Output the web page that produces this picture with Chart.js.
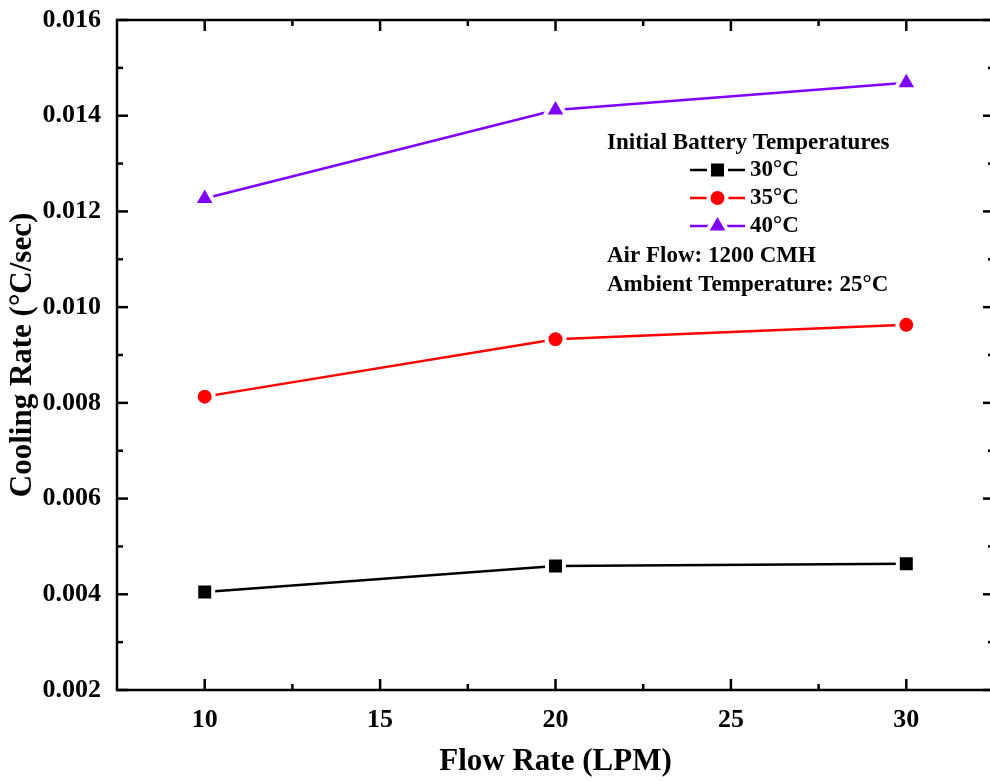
<!DOCTYPE html>
<html>
<head>
<meta charset="utf-8">
<script src="https://cdn.jsdelivr.net/npm/chart.js@4/dist/chart.umd.min.js"></script>
<style>
  html, body { margin: 0; padding: 0; overflow: hidden; background: #fff; }
  canvas { display: block; }
</style>
</head>
<body>
<canvas id="coolingChart" width="1011" height="781"></canvas>
<script>
// data
const flowRate = [10, 20, 30];
const rate30 = [0.00405, 0.00459, 0.00464];
const rate35 = [0.00813, 0.00933, 0.00963];
const rate40 = [0.01227, 0.01412, 0.01469];
const seriesLabels = ['30\u00B0C', '35\u00B0C', '40\u00B0C'];
const xTicks = [10, 15, 20, 25, 30];
const xMinor = [12.5, 17.5, 22.5, 27.5];
const yTicks = [0.002, 0.004, 0.006, 0.008, 0.010, 0.012, 0.014, 0.016];
const yMinor = [0.003, 0.005, 0.007, 0.009, 0.011, 0.013, 0.015];

const FONT = '"Liberation Serif", "Times New Roman", serif';

function toPoints(ys) {
	return flowRate.map(function(x, i) { return { x: x, y: ys[i] }; });
}

function makeSet(label, ys, color, style, radius) {
	return {
		label: label,
		data: toPoints(ys),
		borderColor: color,
		backgroundColor: color,
		borderWidth: 2.5,
		pointStyle: style,
		pointRadius: radius,
		pointBackgroundColor: color,
		pointBorderColor: '#fff',
		pointBorderWidth: 4,
		tension: 0
	};
}

const datasets = [
	makeSet(seriesLabels[0], rate30, '#000000', 'rect', 12),
	makeSet(seriesLabels[1], rate35, '#ff0000', 'circle', 9),
	makeSet(seriesLabels[2], rate40, '#8000ff', 'triangle', 13)
];

/*-----frame with inward ticks-----*/
const framePlugin = {
	id: 'frame',
	beforeDatasetsDraw: function(chart) {
		const ctx = chart.ctx, a = chart.chartArea;
		const xs = chart.scales.x, ys = chart.scales.y;
		ctx.save();
		ctx.strokeStyle = '#000';
		ctx.lineWidth = 2.5;
		ctx.strokeRect(a.left, a.top, a.right - a.left, a.bottom - a.top);
		function tick(x1, y1, x2, y2) {
			ctx.beginPath(); ctx.moveTo(x1, y1); ctx.lineTo(x2, y2); ctx.stroke();
		}
		xTicks.forEach(function(v) {
			const px = xs.getPixelForValue(v);
			tick(px, a.bottom, px, a.bottom - 11);
			tick(px, a.top, px, a.top + 11);
		});
		xMinor.forEach(function(v) {
			const px = xs.getPixelForValue(v);
			tick(px, a.bottom, px, a.bottom - 6);
			tick(px, a.top, px, a.top + 6);
		});
		yTicks.forEach(function(v) {
			const py = ys.getPixelForValue(v);
			tick(a.left, py, a.left + 11, py);
			tick(a.right, py, a.right - 11, py);
		});
		yMinor.forEach(function(v) {
			const py = ys.getPixelForValue(v);
			tick(a.left, py, a.left + 6, py);
			tick(a.right, py, a.right - 6, py);
		});
		ctx.restore();
	}
};

/*-----legend and notes-----*/
const notePlugin = {
	id: 'notes',
	afterDraw: function(chart) {
		const ctx = chart.ctx;
		ctx.save();
		ctx.font = 'bold 23px ' + FONT;
		ctx.fillStyle = '#000';
		ctx.textAlign = 'left';
		ctx.textBaseline = 'middle';
		ctx.fillText('Initial Battery Temperatures', 607, 143);
		const rows = [170, 198, 226];
		chart.data.datasets.forEach(function(ds, i) {
			const y = rows[i];
			ctx.strokeStyle = ds.borderColor;
			ctx.lineWidth = 2.5;
			ctx.beginPath(); ctx.moveTo(690, y); ctx.lineTo(745, y); ctx.stroke();
			ctx.fillStyle = ds.pointBackgroundColor;
			ctx.strokeStyle = '#fff';
			ctx.lineWidth = 4;
			Chart.helpers.drawPoint(ctx, {
				pointStyle: ds.pointStyle, radius: ds.pointRadius, rotation: 0, borderWidth: 4
			}, 717.5, y);
			ctx.fillStyle = '#000';
			ctx.fillText(ds.label, 750, y);
		});
		ctx.fillText('Air Flow: 1200 CMH', 607, 256);
		ctx.fillText('Ambient Temperature: 25\u00B0C', 607, 285);
		ctx.restore();
	}
};

const ctx = document.getElementById('coolingChart').getContext('2d');
new Chart(ctx, {
	type: 'line',
	data: { datasets: datasets },
	options: {
		responsive: false,
		animation: false,
		devicePixelRatio: 1,
		layout: { padding: { top: 20, right: 6, bottom: 0, left: 0 } },
		plugins: {
			legend: { display: false },
			tooltip: { enabled: false }
		},
		scales: {
			x: {
				type: 'linear',
				min: 7.5,
				max: 32.5,
				afterBuildTicks: function(s) { s.ticks = xTicks.map(function(v) { return { value: v }; }); },
				afterFit: function(s) {
					s.height = 91;
					s.paddingLeft = 0; s.paddingRight = 0;
				},
				grid: { display: false },
				border: { display: false },
				ticks: {
					color: '#000',
					padding: 7,
					font: { family: FONT, size: 26, weight: 'bold' },
					callback: function(v) { return String(v); }
				},
				title: {
					display: true,
					text: 'Flow Rate (LPM)',
					color: '#000',
					padding: { top: 0, bottom: 0 },
					font: { family: FONT, size: 31, weight: 'bold' }
				}
			},
			y: {
				type: 'linear',
				min: 0.002,
				max: 0.016,
				afterBuildTicks: function(s) { s.ticks = yTicks.map(function(v) { return { value: v }; }); },
				afterFit: function(s) {
					s.width = 117;
					s.paddingTop = 0; s.paddingBottom = 0;
				},
				grid: { display: false },
				border: { display: false },
				ticks: {
					color: '#000',
					padding: 8,
					font: { family: FONT, size: 26, weight: 'bold' },
					callback: function(v) { return v.toFixed(3); }
				},
				title: {
					display: true,
					text: 'Cooling Rate (\u00B0C/sec)',
					color: '#000',
					padding: { top: 4, bottom: 0 },
					font: { family: FONT, size: 31, weight: 'bold' }
				}
			}
		}
	},
	plugins: [framePlugin, notePlugin]
});
</script>
</body>
</html>
